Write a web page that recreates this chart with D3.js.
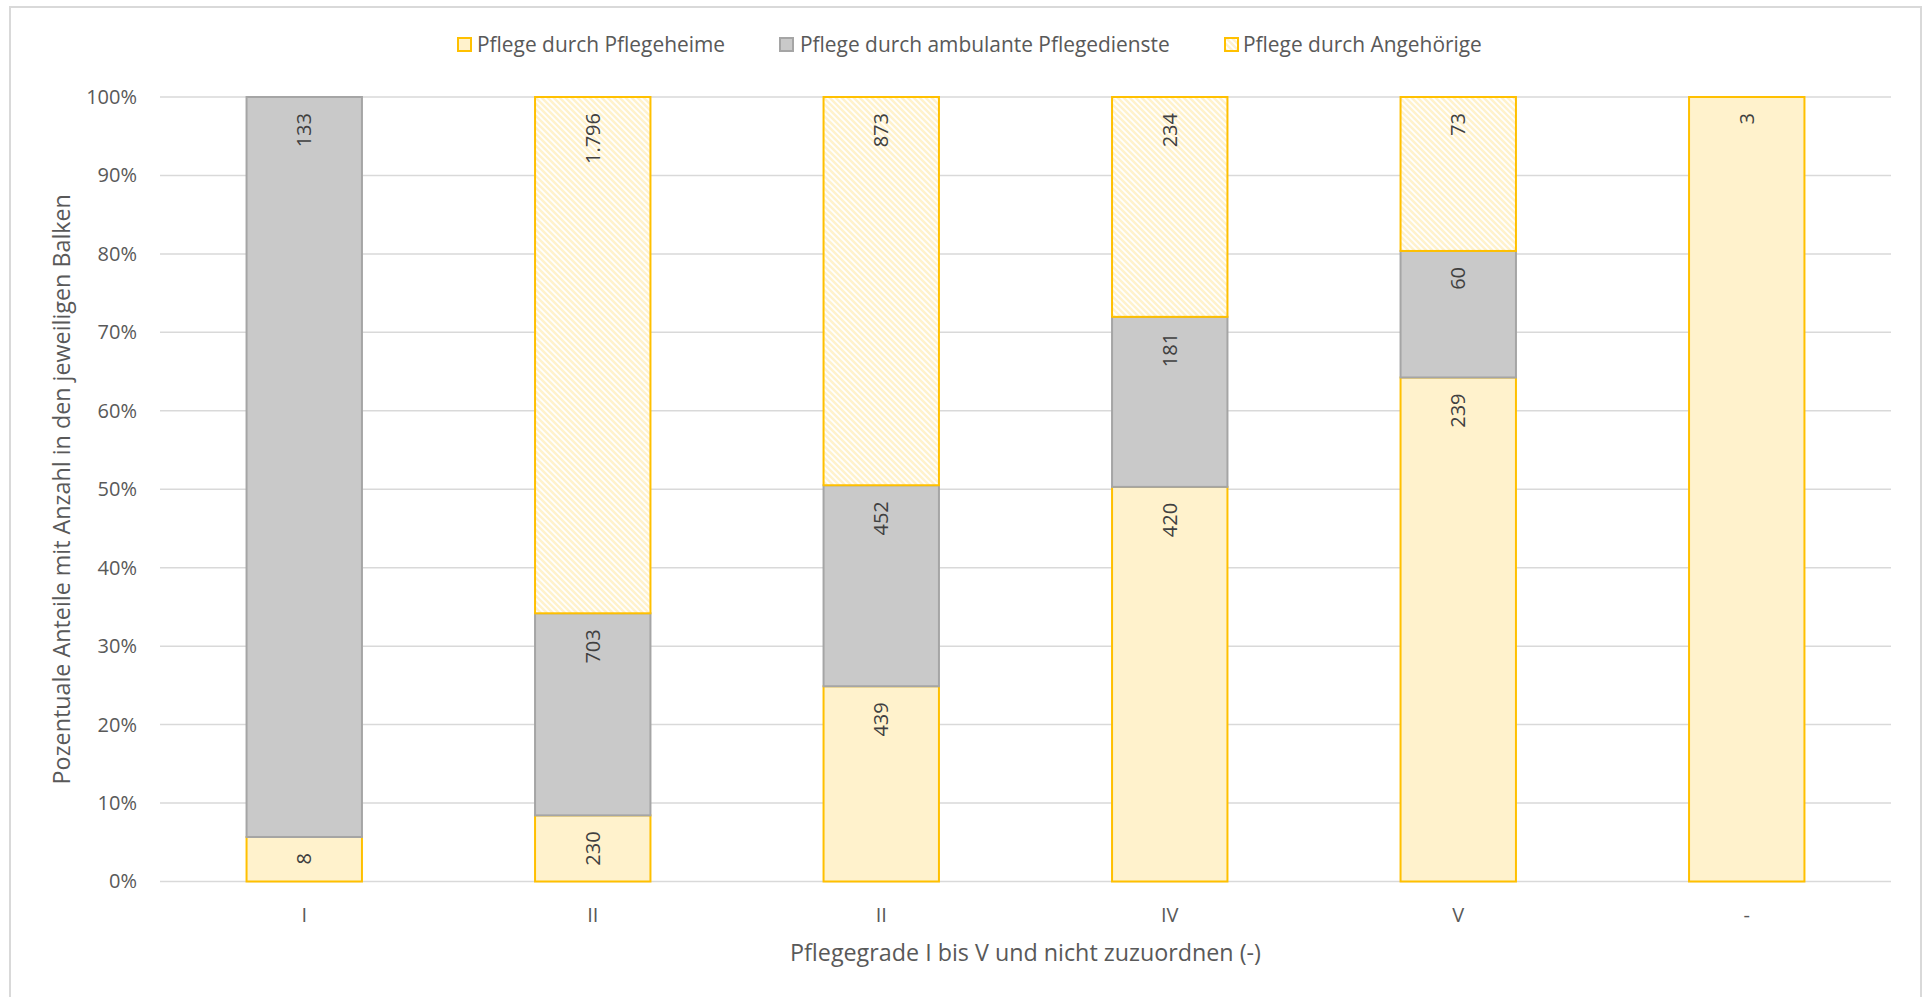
<!DOCTYPE html>
<html>
<head>
<meta charset="utf-8">
<script src="https://cdn.jsdelivr.net/npm/d3@7"></script>
<style>
  html, body { margin: 0; padding: 0; background: #fff; }
  svg { display: block; font-family: "Open Sans", "Noto Sans", sans-serif; }
</style>
</head>
<body>
<svg id="chart" width="1925" height="997"></svg>
<script>
// ---- data ----
const categories = ["I", "II", "II", "IV", "V", "-"];
const seriesNames = ["Pflege durch Pflegeheime", "Pflege durch ambulante Pflegedienste", "Pflege durch Angehörige"];
const pflegeheime = [8, 230, 439, 420, 239, 3];
const ambulant = [133, 703, 452, 181, 60, 0];
const angehoerige = [0, 1796, 873, 234, 73, 0];
const yTicks = [0, 0.1, 0.2, 0.3, 0.4, 0.5, 0.6, 0.7, 0.8, 0.9, 1.0];
const xTitle = "Pflegegrade I bis V und nicht zuzuordnen (-)";
const yTitle = "Pozentuale Anteile mit Anzahl in den jeweiligen Balken";

// ---- layout ----
const svg = d3.select("#chart");
const plot = { left: 160, right: 1891, top: 97, bottom: 881.5 };
const textColor = "#595959";
const gridColor = "#D9D9D9";

const defs = svg.append("defs");
const pat = defs.append("pattern")
  .attr("id", "hatch").attr("patternUnits", "userSpaceOnUse")
  .attr("width", 6).attr("height", 6);
pat.append("rect").attr("width", 6).attr("height", 6).attr("fill", "#ffffff");
pat.append("path").attr("d", "M-2,-2 L8,8 M-2,4 L2,8 M4,-2 L8,2")
  .attr("stroke", "#FFF2CC").attr("stroke-width", 2.5);

const styles = [
  { fill: "#FFF2CC", stroke: "#FFC000" },
  { fill: "#C9C9C9", stroke: "#A5A5A5" },
  { fill: "url(#hatch)", stroke: "#FFC000" }
];

// outer border
svg.append("rect").attr("x", 10).attr("y", 7).attr("width", 1911).attr("height", 1000)
  .attr("fill", "none").attr("stroke", gridColor).attr("stroke-width", 2);

const idx = categories.map((d, i) => i);
const x = d3.scaleBand().domain(idx).range([plot.left, plot.right]).paddingInner(0.6).paddingOuter(0.3);
const y = d3.scaleLinear().domain([0, 1]).range([plot.bottom, plot.top]);

// gridlines
svg.append("g").selectAll("line").data(yTicks).join("line")
  .attr("x1", plot.left).attr("x2", plot.right)
  .attr("y1", d => y(d)).attr("y2", d => y(d))
  .attr("stroke", gridColor).attr("stroke-width", 1.5);

// y axis
const yAxis = d3.axisLeft(y).tickValues(yTicks).tickFormat(d3.format(".0%")).tickSize(0).tickPadding(0);
const gy = svg.append("g").attr("transform", `translate(${plot.left - 23},0)`).call(yAxis);
gy.select(".domain").remove();
gy.selectAll("text").attr("fill", textColor).attr("font-size", 20).attr("font-family", "Open Sans");

// x axis
const xAxis = d3.axisBottom(x).tickFormat(i => categories[i]).tickSize(0).tickPadding(0);
const gx = svg.append("g").attr("transform", `translate(0,${plot.bottom + 33})`).call(xAxis);
gx.select(".domain").remove();
gx.selectAll("text").attr("fill", textColor).attr("font-size", 20).attr("font-family", "Open Sans")
  .attr("dy", "0.35em");

// stack
const rows = idx.map(i => {
  const tot = pflegeheime[i] + ambulant[i] + angehoerige[i];
  return { i, s0: pflegeheime[i] / tot, s1: ambulant[i] / tot, s2: angehoerige[i] / tot,
           v0: pflegeheime[i], v1: ambulant[i], v2: angehoerige[i] };
});
const stacked = d3.stack().keys(["s0", "s1", "s2"])(rows);

const de = d3.formatLocale({ decimal: ",", thousands: ".", grouping: [3], currency: ["", " €"] });
const fmt = de.format(",d");

stacked.forEach((layer, k) => {
  svg.append("g").selectAll("rect").data(layer.filter(d => d[1] - d[0] > 0)).join("rect")
    .attr("x", d => x(d.data.i))
    .attr("width", x.bandwidth())
    .attr("y", d => y(d[1]))
    .attr("height", d => y(d[0]) - y(d[1]))
    .attr("fill", styles[k].fill)
    .attr("stroke", styles[k].stroke)
    .attr("stroke-width", 2);
});

// labels (inside end, rotated)
stacked.forEach((layer, k) => {
  const key = ["v0", "v1", "v2"][k];
  svg.append("g").selectAll("text").data(layer.filter(d => d.data[key] > 0)).join("text")
    .attr("transform", d => `translate(${x(d.data.i) + x.bandwidth() / 2},${y(d[1]) + 16}) rotate(-90)`)
    .attr("text-anchor", "end")
    .attr("dy", "0.35em")
    .attr("fill", "#404040")
    .attr("font-size", 20)
    .text(d => fmt(d.data[key]));
});

// legend
const legendItems = [
  { name: seriesNames[0], sq: 457, tx: 477, st: styles[0] },
  { name: seriesNames[1], sq: 779, tx: 800, st: styles[1] },
  { name: seriesNames[2], sq: 1224, tx: 1243, st: styles[2] }
];
const lg = svg.append("g");
legendItems.forEach(it => {
  lg.append("rect").attr("x", it.sq + 1).attr("y", 38).attr("width", 13).attr("height", 13)
    .attr("fill", it.st.fill).attr("stroke", it.st.stroke).attr("stroke-width", 2);
  lg.append("text").attr("x", it.tx).attr("y", 45).attr("dy", "0.35em")
    .attr("fill", textColor).attr("font-size", 20.9).text(it.name);
});

// axis titles
svg.append("text").attr("x", (plot.left + plot.right) / 2).attr("y", 953).attr("dy", "0.35em")
  .attr("text-anchor", "middle").attr("fill", textColor).attr("font-size", 23.3).text(xTitle);
svg.append("text").attr("transform", `translate(62,${(plot.top + plot.bottom) / 2}) rotate(-90)`)
  .attr("text-anchor", "middle").attr("dy", "0.35em")
  .attr("fill", textColor).attr("font-size", 23.3).text(yTitle);
</script>
</body>
</html>
